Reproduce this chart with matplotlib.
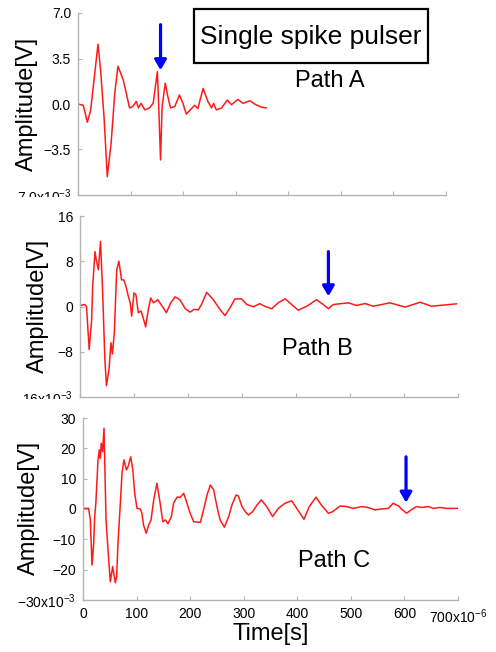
import matplotlib
matplotlib.use("Agg")
import matplotlib.pyplot as plt
from matplotlib.patches import Rectangle

plt.rcParams['font.family'] = ['Liberation Sans', 'DejaVu Sans']
plt.rcParams['mathtext.default'] = 'regular'
plt.rcParams['axes.unicode_minus'] = True

# ---------------- data (time in microseconds, amplitude in mV) ----------------
tA = [0, 10, 17.7, 24, 38, 43, 49.5, 55.7, 63, 70, 76, 81, 86, 92, 98, 104, 111, 115, 120,
      127, 136, 143, 151, 154, 157, 160, 166, 171, 176, 184, 193, 200, 206, 216, 222, 228,
      238, 247, 254, 258, 263, 273, 284, 292, 304, 314, 327, 336, 349, 358]
vA = [0.0, -0.1, -1.4, -0.5, 4.6, 2.6, -1.0, -5.6, -3.0, 0.85, 2.9, 2.4, 1.85, 0.8, -0.3, -0.2,
      0.2, -0.3, 0.05, -0.45, -0.3, 0.05, 2.5, -0.7, -4.3, -0.2, 1.6, 0.55, -0.3, -0.2, 0.7,
      0.0, -0.77, -0.35, -0.1, -0.35, 1.2, 0.2, -0.3, 0.05, -0.45, -0.3, 0.3, -0.05, 0.35,
      0.05, 0.25, 0.0, -0.25, -0.3]

tB = [0, 9, 12, 17, 21.6, 23.5, 27.8, 30, 34, 38, 42, 46, 49, 53.7, 57.4, 60, 63.6, 68, 72,
      77, 81, 85, 89.5, 93, 95.7, 100, 103.5, 108, 113, 117, 121.6, 126.5, 131, 136, 140, 144,
      154, 160, 168, 176, 185, 195, 204, 211, 219, 225, 234.6, 247, 259, 268.5, 278, 287, 299,
      309, 321, 333, 343, 355, 367, 380, 404, 420, 438, 450.5, 460, 469, 497, 512, 528, 543,
      574, 602, 630, 651, 697]
vB = [0.18, 0.35, 0.0, -7.6, -2.3, 3.6, 9.7, 8.3, 6.5, 11.5, 2.4, -9.3, -14.0, -11.1, -6.4,
      -8.4, -4.6, 6.5, 8.0, 4.7, 4.7, 3.6, 1.8, 0.6, -1.7, 2.4, 2.1, -1.1, -0.8, -2.0, -3.6,
      -0.5, 1.5, 0.65, 0.9, 1.2, -0.2, -1.1, 0.65, 1.7, 1.2, -0.4, -1.0, -0.5, -0.6, 0.35,
      2.5, 1.2, -0.5, -1.6, -0.2, 1.35, 1.35, 0.35, -0.05, 0.5, 0.0, -0.4, 0.65, 1.35, -0.65,
      0.05, 1.2, 0.35, -0.4, 0.35, 0.65, 0.18, 0.53, 0.05, 0.65, -0.1, 0.75, 0.05, 0.47]

tC = [0, 10.5, 13.7, 16.8, 20, 21.8, 24, 28, 30.5, 32.5, 34, 36.6, 39.2, 43, 46.7, 51, 55.4,
      57.3, 60.3, 62.8, 65.3, 69.7, 72.8, 76.5, 80.9, 84, 89, 93, 96.5, 100.8, 107, 110, 113,
      118, 122.6, 127, 132, 138, 144, 149, 153.7, 158.6, 165, 169, 175.5, 182, 188, 194, 200,
      206.6, 219, 225, 231.5, 237.7, 244, 250, 256, 263.8, 272, 278, 285.6, 290, 296.8, 303,
      309, 316.5, 324.8, 332.8, 343, 354, 364.6, 377, 389.6, 399, 412.5, 422.4, 435, 445, 458,
      466, 480, 492, 504.5, 520, 532, 545, 557, 570, 579, 589, 595, 604, 614, 622.7, 633,
      644.6, 654, 666, 679, 700]
vC = [0.2, 0.2, -3.6, -18.5, -11.2, -2.5, 1.9, 16.2, 19.5, 16.7, 21.7, 18.9, 26.6, -3.6,
      -13.5, -24.0, -19.0, -21.0, -24.3, -22.3, -11.3, 1.9, 11.8, 16.2, 12.9, 13.9, 17.2, 12.9,
      5.2, 0.2, 0.0, -1.4, -5.3, -8.0, -5.3, -3.6, 3.0, 8.5, 1.9, -4.2, -3.6, -4.9, -2.5, 1.9,
      3.9, 3.9, 5.2, 1.9, -1.4, -4.2, -4.4, -0.3, 4.6, 7.9, 6.3, 0.8, -3.6, -6.0, -2.5, 1.3,
      4.6, 4.3, 0.8, -0.9, -2.0, -0.9, 1.3, 3.0, 0.8, -2.5, 0.2, 1.9, 2.7, 0.2, -3.4, 0.8, 3.9,
      1.3, -1.4, -0.9, 1.0, 0.8, 0.2, 0.8, 0.5, -0.3, 0.0, 0.2, 1.9, 1.0, -0.1, -1.4, -0.1,
      0.8, 0.5, 0.8, 0.2, 0.5, 0.2, 0.2]

# arrows: (time, top, tip)
arrowA = (157, 6.1, 2.6)
arrowB = (460, 9.7, 1.8)
arrowC = (603, 17.2, 2.1)

yticksA = [-7.0, -3.5, 0.0, 3.5, 7.0]
ylabelsA = ['\u22127.0x10$^{-3}$', '\u22123.5', '0.0', '3.5', '7.0']
yticksB = [-16, -8, 0, 8, 16]
ylabelsB = ['\u221216x10$^{-3}$', '\u22128', '0', '8', '16']
yticksC = [-30, -20, -10, 0, 10, 20, 30]
ylabelsC = ['\u221230x10$^{-3}$', '\u221220', '\u221210', '0', '10', '20', '30']
xticks = [0, 100, 200, 300, 400, 500, 600, 700]
xlabels = ['0', '100', '200', '300', '400', '500', '600', '700x10$^{-6}$']

W, H = 496, 652
fig = plt.figure(figsize=(W / 100, H / 100), dpi=100)


def rect(x0, x1, ytop, ybot):
    return [x0 / W, 1 - ybot / H, (x1 - x0) / W, (ybot - ytop) / H]


grey = '#b4b4b4'


def setup(ax, t, v, ylim, yt, yl, show_x):
    ax.plot(t, v, color='#ff1a1a', lw=1.1, solid_joinstyle='round')
    ax.set_xlim(0, 700)
    ax.set_ylim(-ylim, ylim)
    ax.set_yticks(yt)
    ax.set_yticklabels(yl)
    ax.set_xticks(xticks)
    if show_x:
        ax.set_xticklabels(xlabels)
    else:
        ax.set_xticklabels([])
    for s in ['top', 'right']:
        ax.spines[s].set_visible(False)
    for s in ['left', 'bottom']:
        ax.spines[s].set_color(grey)
        ax.spines[s].set_linewidth(1.0)
    ax.tick_params(direction='in', length=3, width=0.8, color=grey, labelsize=10,
                   labelcolor='black', pad=5)
    ax.patch.set_alpha(0)


axA = fig.add_axes(rect(78, 446, 13, 195))
setup(axA, tA, vA, 7.0, yticksA, ylabelsA, False)
axB = fig.add_axes(rect(80, 458, 216, 397))
setup(axB, tB, vB, 16, yticksB, ylabelsB, False)
axC = fig.add_axes(rect(83, 458, 418, 600))
setup(axC, tC, vC, 30, yticksC, ylabelsC, True)

for ax, (ta, top, tip) in [(axA, arrowA), (axB, arrowB), (axC, arrowC)]:
    ax.annotate('', xy=(ta, tip), xytext=(ta, top),
                arrowprops=dict(arrowstyle='-|>,head_length=0.6,head_width=0.35',
                                color='#0000ff', lw=2.3, mutation_scale=10,
                                shrinkA=0, shrinkB=0))

# white covers (panels overlap the bottom tick labels of the panel above)
for (x0, x1, y0, y1) in [(0, 76, 197, 206), (0, 78, 399, 409)]:
    fig.add_artist(Rectangle((x0 / W, 1 - y1 / H), (x1 - x0) / W, (y1 - y0) / H,
                             transform=fig.transFigure, facecolor='white',
                             edgecolor='none', zorder=10))

# y labels
for (x, y) in [(27, 104), (38, 306), (29, 508)]:
    fig.text(x / W, 1 - y / H, 'Amplitude[V]', rotation=90, fontsize=17,
             ha='center', va='center')

fig.text(271 / W, 1 - 634 / H, 'Time[s]', fontsize=17, ha='center', va='center')

# title box
fig.add_artist(Rectangle((194 / W, 1 - 63 / H), (428 - 194) / W, (63 - 9) / H,
                         transform=fig.transFigure, facecolor='white',
                         edgecolor='black', lw=1.6, zorder=5))
fig.text(311 / W, 1 - 37 / H, 'Single spike pulser', fontsize=19, ha='center',
         va='center', zorder=6)

fig.text(330 / W, 1 - 81 / H, 'Path A', fontsize=17, ha='center', va='center')
fig.text(317 / W, 1 - 349 / H, 'Path B', fontsize=17, ha='center', va='center')
fig.text(334 / W, 1 - 561 / H, 'Path C', fontsize=17, ha='center', va='center')

fig.savefig('out.png', dpi=100, facecolor='white')
